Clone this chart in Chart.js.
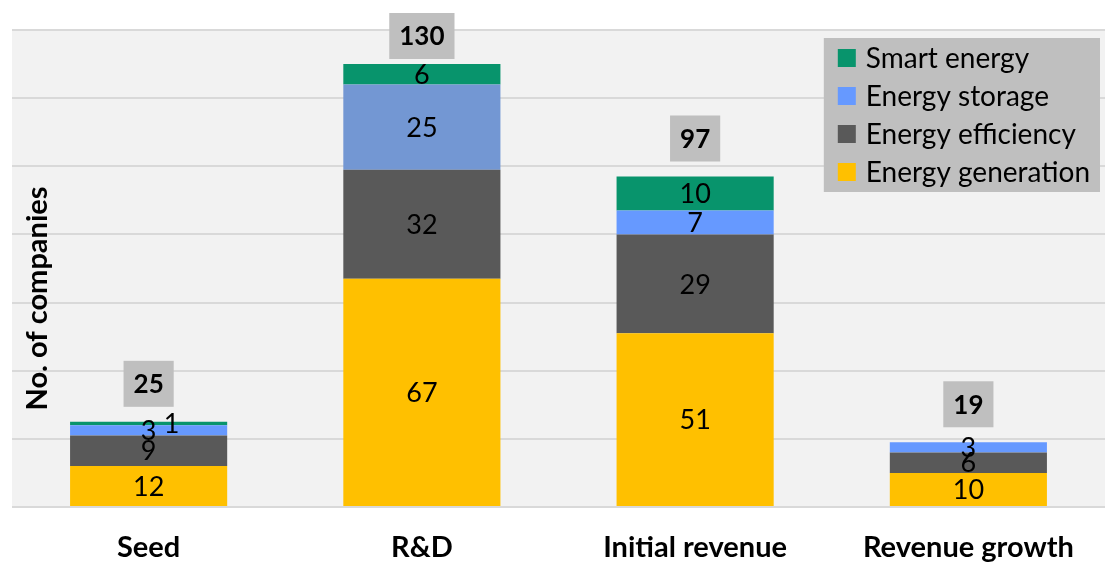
<!DOCTYPE html>
<html>
<head>
<meta charset="utf-8">
<title>Companies by stage</title>
<script src="https://cdn.jsdelivr.net/npm/chart.js@4.4.0/dist/chart.umd.min.js"></script>
<style>
  html, body { margin: 0; padding: 0; background: #fff; }
  #wrap { width: 1105px; height: 563px; }
</style>
</head>
<body>
<div id="wrap"><canvas id="myChart"></canvas></div>
<script>
// data
const categories = ['Seed', 'R&D', 'Initial revenue', 'Revenue growth'];
const seriesNames = ['Energy generation', 'Energy efficiency', 'Energy storage', 'Smart energy'];
const generation = [12, 67, 51, 10];
const efficiency = [9, 32, 29, 6];
const storage = [3, 25, 7, 3];
const smart = [1, 6, 10, 0];
const yMax = 140;
const yStep = 20;

const FONT = 'Lato, "Open Sans", sans-serif';

const totals = categories.map((c, i) => generation[i] + efficiency[i] + storage[i] + smart[i]);

// R&D storage segment is a slightly different blue in the original
const storageColors = ['#6699ff', '#7397d3', '#6699ff', '#6699ff'];

const data = {
  labels: categories,
  datasets: [
    { label: seriesNames[0], data: generation, backgroundColor: '#ffc000' },
    { label: seriesNames[1], data: efficiency, backgroundColor: '#595959' },
    { label: seriesNames[2], data: storage, backgroundColor: storageColors },
    { label: seriesNames[3], data: smart, backgroundColor: '#08946c' },
  ]
};

const plotBg = {
  id: 'plotBg',
  beforeDraw(chart) {
    const {ctx, chartArea: a} = chart;
    ctx.save();
    ctx.fillStyle = '#f2f2f2';
    ctx.fillRect(a.left, a.top, a.right - a.left, a.bottom - a.top);
    ctx.restore();
  }
};

const segLabels = {
  id: 'segLabels',
  afterDatasetsDraw(chart) {
    const ctx = chart.ctx;
    ctx.save();
    ctx.font = '27px ' + FONT;
    ctx.fillStyle = '#000';
    ctx.textAlign = 'center';
    ctx.textBaseline = 'middle';
    chart.data.datasets.forEach((ds, di) => {
      const meta = chart.getDatasetMeta(di);
      meta.data.forEach((bar, i) => {
        const v = ds.data[i];
        if (!v) return;
        const h = Math.abs(bar.base - bar.y);
        // very thin segments get nudged aside like excel does
        const dx = h < 6 ? 23 : 0;
        ctx.fillText(String(v), bar.x + dx, (bar.y + bar.base) / 2 + 1);
      });
    });
    ctx.restore();
  }
};

const totalLabels = {
  id: 'totalLabels',
  afterDatasetsDraw(chart) {
    const ctx = chart.ctx;
    const y = chart.scales.y, x = chart.scales.x;
    ctx.save();
    ctx.font = 'bold 26px ' + FONT;
    ctx.textAlign = 'center';
    ctx.textBaseline = 'middle';
    totals.forEach((t, i) => {
      const cx = x.getPixelForValue(i);
      const w = ctx.measureText(String(t)).width + 20;
      const h = 46;
      let top = y.getPixelForValue(t) - 15 - h;
      if (top < 13) top = 13;
      ctx.fillStyle = '#bfbfbf';
      ctx.fillRect(cx - w / 2, top, w, h);
      ctx.fillStyle = '#000';
      ctx.fillText(String(t), cx, top + h / 2 + 1);
    });
    ctx.restore();
  }
};

const yTitle = {
  id: 'yTitle',
  afterDraw(chart) {
    const {ctx, chartArea: a} = chart;
    ctx.save();
    ctx.translate(38, (a.top + a.bottom) / 2 + 30);
    ctx.rotate(-Math.PI / 2);
    ctx.font = 'bold 29px ' + FONT;
    ctx.fillStyle = '#000';
    ctx.textAlign = 'center';
    ctx.textBaseline = 'middle';
    ctx.fillText('No. of companies', 0, 0);
    ctx.restore();
  }
};

const boxLegend = {
  id: 'boxLegend',
  afterDraw(chart) {
    const {ctx, chartArea: a} = chart;
    const sets = chart.data.datasets.slice().reverse();
    ctx.save();
    ctx.font = '28px ' + FONT;
    let tw = 0;
    sets.forEach(ds => { tw = Math.max(tw, ctx.measureText(ds.label).width); });
    const rowH = 38;
    const w = 14 + 18 + 10 + tw + 10;
    const h = sets.length * rowH + 2;
    const left = 1100 - w, top = 38;
    ctx.fillStyle = '#bfbfbf';
    ctx.fillRect(left, top, w, h);
    ctx.textBaseline = 'middle';
    ctx.textAlign = 'left';
    sets.forEach((ds, k) => {
      const cy = top + 20 + k * rowH;
      const c = Array.isArray(ds.backgroundColor) ? ds.backgroundColor[0] : ds.backgroundColor;
      ctx.fillStyle = c;
      ctx.fillRect(left + 14, cy - 9, 18, 18);
      ctx.fillStyle = '#000';
      ctx.fillText(ds.label, left + 42, cy + 1);
    });
    ctx.restore();
  }
};

const config = {
  type: 'bar',
  data: data,
  options: {
    responsive: true,
    maintainAspectRatio: false,
    animation: false,
    layout: { padding: { left: 12, right: 0, top: 30, bottom: 0 } },
    datasets: { bar: { categoryPercentage: 1, barPercentage: 0.575 } },
    plugins: {
      legend: { display: false },
      tooltip: { enabled: false }
    },
    scales: {
      x: {
        stacked: true,
        grid: { display: false },
        border: { display: false },
        ticks: {
          color: '#000',
          padding: 15,
          font: { family: FONT, size: 29, weight: 'bold' }
        },
        afterFit(scale) { scale.height = 56; }
      },
      y: {
        stacked: true,
        min: 0,
        max: yMax,
        border: { display: false },
        grid: { color: '#d9d9d9', lineWidth: 2, drawTicks: false },
        ticks: { display: false, stepSize: yStep }
      }
    }
  },
  plugins: [plotBg, segLabels, totalLabels, yTitle, boxLegend]
};

new Chart(document.getElementById('myChart'), config);
</script>
</body>
</html>
